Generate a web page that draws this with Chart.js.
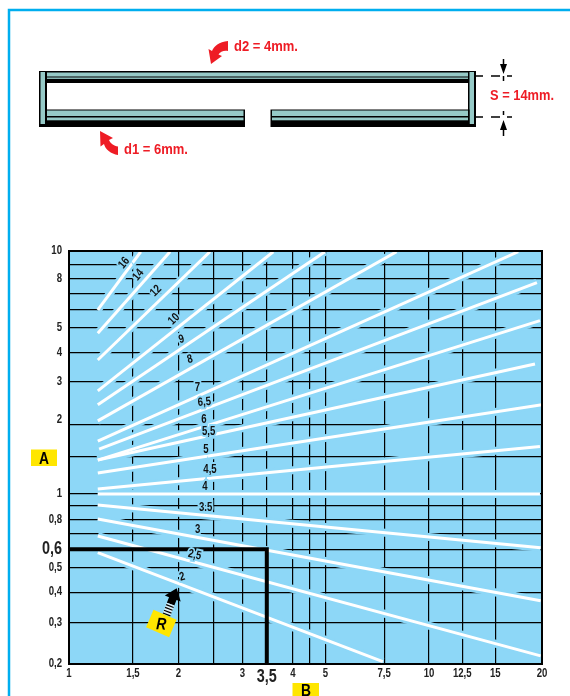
<!DOCTYPE html>
<html>
<head>
<meta charset="utf-8">
<title>Nomogram</title>
<script src="https://cdn.jsdelivr.net/npm/chart.js@4"></script>
<style>
  html, body { margin: 0; padding: 0; background: #fff; }
  #wrap { position: relative; width: 570px; height: 696px; overflow: hidden; }
  #nomo { position: absolute; left: 0; top: 0; }
  #over { position: absolute; left: 0; top: 0; }
  #over text { font-family: "Liberation Sans", sans-serif; font-weight: bold; }
</style>
</head>
<body>
<div id="wrap">
  <canvas id="nomo" width="570" height="696"></canvas>
  <svg id="over" width="570" height="696" viewBox="0 0 570 696">
    <!-- page frame -->
    <path d="M570,10 H9 V696" fill="none" stroke="#00aeef" stroke-width="2.5"/>

    <!-- cross section of the two plates -->
    <rect x="39" y="71" width="437" height="12" fill="#000"/>
    <rect x="47" y="72.5" width="421" height="4" fill="#96cac7"/>
    <rect x="47" y="77.5" width="421" height="1.4" fill="#96cac7"/>
    <rect x="39" y="71" width="8" height="56" fill="#000"/>
    <rect x="468" y="71" width="8" height="56" fill="#000"/>
    <rect x="40.5" y="72" width="4.5" height="52" fill="#96cac7"/>
    <rect x="469.5" y="72" width="4.5" height="52" fill="#96cac7"/>
    <rect x="45" y="109.5" width="200" height="17.500" fill="#000"/>
    <rect x="47" y="110.5" width="196.500" height="5.500" fill="#96cac7"/>
    <rect x="47" y="117.500" width="196.500" height="2.800" fill="#96cac7"/>
    <rect x="270.500" y="109.5" width="199" height="17.500" fill="#000"/>
    <rect x="272" y="110.5" width="196" height="5.500" fill="#96cac7"/>
    <rect x="272" y="117.500" width="196" height="2.800" fill="#96cac7"/>

    <!-- S dimension marks -->
    <g stroke="#000" stroke-width="1.5" fill="none">
      <path d="M476,76 H483 M491,76 H500 M507,76 H512"/>
      <path d="M476,117 H483 M491,117 H500 M507,117 H512"/>
      <path d="M503.500,59 V70 M503.500,76 V81"/>
      <path d="M503.500,111 V115 M503.500,124 V136"/>
    </g>
    <path d="M500,64 H507 L503.500,74 Z M500,130 H507 L503.500,120 Z" fill="#000"/>

    <!-- red callouts -->
    <path d="M228,41 C219,42 214,46 212,51 L208.500,49 L211,64 L222,56 L218.500,54.500 C220,52 224,50 228,51 Z" fill="#ee1c25"/>
    <path d="M100,131 L113,138 L109,140 C110,143 114,146 118,146.500 L118,155 C111,154 105,149 104,144 L100.500,146.500 Z" fill="#ee1c25"/>
    <text x="234" y="51" font-size="15" fill="#ee1c25" textLength="64" lengthAdjust="spacingAndGlyphs">d2 = 4mm.</text>
    <text x="124" y="154" font-size="15" fill="#ee1c25" textLength="64" lengthAdjust="spacingAndGlyphs">d1 = 6mm.</text>
    <text x="490" y="100" font-size="15" fill="#ee1c25" textLength="64" lengthAdjust="spacingAndGlyphs">S = 14mm.</text>

    <!-- axis tags -->
    <rect x="31" y="449.500" width="26" height="16.500" fill="#ffe600"/>
    <text x="39" y="463.500" font-size="16" fill="#000" textLength="10" lengthAdjust="spacingAndGlyphs">A</text>
    <rect x="292.500" y="683" width="26.500" height="16" fill="#ffe600"/>
    <text x="301" y="696" font-size="16" fill="#000" textLength="10" lengthAdjust="spacingAndGlyphs">B</text>

    <!-- R pointer -->
    <g transform="translate(176.700,588.300) rotate(21)">
      <polygon points="0,0 -8.500,11 -4,11 -4,17 4,17 4,11 8.500,11" fill="#000"/>
      <rect x="-4" y="17" width="8" height="11" fill="#d9eef7"/>
      <path d="M-4,19 H4 M-4,22 H4 M-4,25 H4 M-4,28 H4" stroke="#000" stroke-width="1.200"/>
    </g>
    <g transform="translate(161.300,623.500) rotate(23)">
      <rect x="-12.500" y="-9.500" width="25" height="19" fill="#ffe600"/>
      <text x="-5" y="6" font-size="17" font-style="italic" fill="#000" transform="rotate(-20)" textLength="10" lengthAdjust="spacingAndGlyphs">R</text>
    </g>
  </svg>
</div>

<script>
// axis values where the printed grid lines fall (the print drifts a little from a true log scale)
const xGrid = [1, 1.5, 2, 2.5, 3, 3.5, 4.13, 4.58, 5.07, 7.36, 9.78, 12.07, 14.88, 20];
const xLabels = ["1", "1,5", "2", "", "3", "3,5", "4", "", "5", "7,5", "10", "12,5", "15", "20"];
const yGrid = [10, 8.83, 7.7, 6.68, 5.74, 4.84, 3.82, 2.89, 1.94, 1.42, 1, 0.893, 0.787, 0.69, 0.593, 0.497, 0.395, 0.297, 0.2];
const yLabels = ["10", "", "8", "", "", "5", "4", "3", "2", "", "1", "", "0,8", "", "0,6", "0,5", "0,4", "0,3", "0,2"];

// one straight line per R value, start and end
const curveNames = ["16", "14", "12", "10", "9", "8", "7", "6,5", "6", "5,5", "5", "4,5", "4", "3.5", "3", "2,5", "2"];
const curveStartX = [1.2, 1.2, 1.2, 1.2, 1.2, 1.2, 1.2, 1.21, 1.2, 1.2, 1.2, 1.2, 1.2, 1.2, 1.2, 1.2, 1.2];
const curveStartY = [5.72, 4.59, 3.56, 2.66, 2.33, 2, 1.65, 1.53, 1.38, 1.38, 1.22, 1.05, 1, 0.902, 0.79, 0.672, 0.574];
const curveEndX = [1.575, 1.896, 2.442, 3.646, 5.06, 7.96, 17.2, 19.37, 19.74, 19.13, 20, 19.74, 19.74, 19.83, 19.83, 19.83, 7.3];
const curveEndY = [9.93, 9.93, 9.93, 9.93, 9.93, 9.93, 9.93, 7.41, 5.17, 3.43, 2.33, 1.57, 1, 0.602, 0.364, 0.216, 0.2045];

// where each R value is printed
const tagX = [1.417, 1.551, 1.735, 1.945, 2.04, 2.152, 2.254, 2.356, 2.351, 2.422, 2.381, 2.442, 2.366, 2.377, 2.259, 2.217, 2.05];
const tagY = [8.93, 7.97, 6.85, 5.24, 4.33, 3.58, 2.74, 2.39, 2.03, 1.8, 1.53, 1.26, 1.07, 0.879, 0.717, 0.562, 0.457];
const tagAngle = [-50, -50, -45, -45, -15, -15, 0, -5, 0, 0, 0, 0, 0, 0, 0, 12, -15];

// reading example: R = 2 ... B = 3,5 gives A = 0,6
const guideX = [1, 3.5, 3.5];
const guideY = [0.593, 0.593, 0.2];

const PLOT_BLUE = "#8dd7f7";
const FONT = '"Liberation Sans", sans-serif';
const NARROW = 0.8; // no narrow face installed, squeeze the bold one

const datasets = [];
curveNames.forEach((name, i) => {
  const pts = [{ x: curveStartX[i], y: curveStartY[i] }, { x: curveEndX[i], y: curveEndY[i] }];
  // blue casing knocks the grid out next to each line, as in the print
  datasets.push({ label: name + " casing", data: pts, borderColor: PLOT_BLUE, borderWidth: 8, pointRadius: 0, order: 3 });
  datasets.push({ label: name, data: pts, borderColor: "#fff", borderWidth: 3, pointRadius: 0, order: 2 });
});
datasets.push({
  label: "guide",
  data: guideX.map((x, i) => ({ x: x, y: guideY[i] })),
  borderColor: "#000",
  borderWidth: 4,
  pointRadius: 0,
  borderCapStyle: "butt",
  borderJoinStyle: "miter",
  order: 1
});

function squeezedText(c, text, x, y, size, color) {
  c.save();
  c.translate(x, y);
  c.scale(NARROW, 1);
  c.font = "bold " + size + "px " + FONT;
  c.fillStyle = color;
  c.fillText(text, 0, 0);
  c.restore();
}

const plotFrame = {
  id: "plotFrame",
  beforeDraw(chart) {
    const a = chart.chartArea;
    chart.ctx.fillStyle = PLOT_BLUE;
    chart.ctx.fillRect(a.left, a.top, a.width, a.height);
  },
  afterDatasetsDraw(chart) {
    const a = chart.chartArea;
    const c = chart.ctx;
    const sx = chart.scales.x;
    const sy = chart.scales.y;
    c.save();
    c.strokeStyle = "#000";
    c.lineWidth = 2;
    c.strokeRect(a.left, a.top, a.width, a.height);

    c.textBaseline = "middle";
    c.textAlign = "center";
    xGrid.forEach((v, i) => {
      const big = xLabels[i] === "3,5";
      squeezedText(c, xLabels[i], sx.getPixelForValue(v), big ? 677 : 674, big ? 18 : 12, "#222");
    });
    c.textAlign = "right";
    yGrid.forEach((v, i) => {
      const big = yLabels[i] === "0,6";
      const py = sy.getPixelForValue(v) + (yLabels[i] === "2" ? -4 : 0);
      squeezedText(c, yLabels[i], 62, py, big ? 18 : 12, "#222");
    });

    c.textAlign = "center";
    c.font = "bold 12px " + FONT;
    curveNames.forEach((name, i) => {
      c.save();
      c.translate(sx.getPixelForValue(tagX[i]), sy.getPixelForValue(tagY[i]));
      c.rotate(tagAngle[i] * Math.PI / 180);
      c.scale(NARROW, 1);
      c.strokeStyle = PLOT_BLUE;
      c.lineWidth = 4;
      c.strokeText(name, 0, 0);
      c.fillStyle = "#111";
      c.fillText(name, 0, 0);
      c.restore();
    });
    c.restore();
  }
};

new Chart(document.getElementById("nomo").getContext("2d"), {
  type: "line",
  data: { datasets: datasets },
  plugins: [plotFrame],
  options: {
    responsive: false,
    animation: false,
    layout: { padding: { left: 0, right: 28, top: 251, bottom: 0 } },
    plugins: { legend: { display: false }, tooltip: { enabled: false } },
    scales: {
      x: {
        type: "logarithmic",
        min: 1,
        max: 20,
        afterBuildTicks(scale) { scale.ticks = xGrid.map(v => ({ value: v })); },
        afterFit(scale) { scale.height = 32; },
        grid: { color: "#000", lineWidth: 1.2, drawTicks: false },
        border: { display: false },
        ticks: { display: false, autoSkip: false }
      },
      y: {
        type: "logarithmic",
        min: 0.2,
        max: 10,
        afterBuildTicks(scale) { scale.ticks = yGrid.map(v => ({ value: v })); },
        afterFit(scale) { scale.width = 69; },
        grid: { color: "#000", lineWidth: 1.2, drawTicks: false },
        border: { display: false },
        ticks: { display: false, autoSkip: false }
      }
    }
  }
});
</script>
</body>
</html>
